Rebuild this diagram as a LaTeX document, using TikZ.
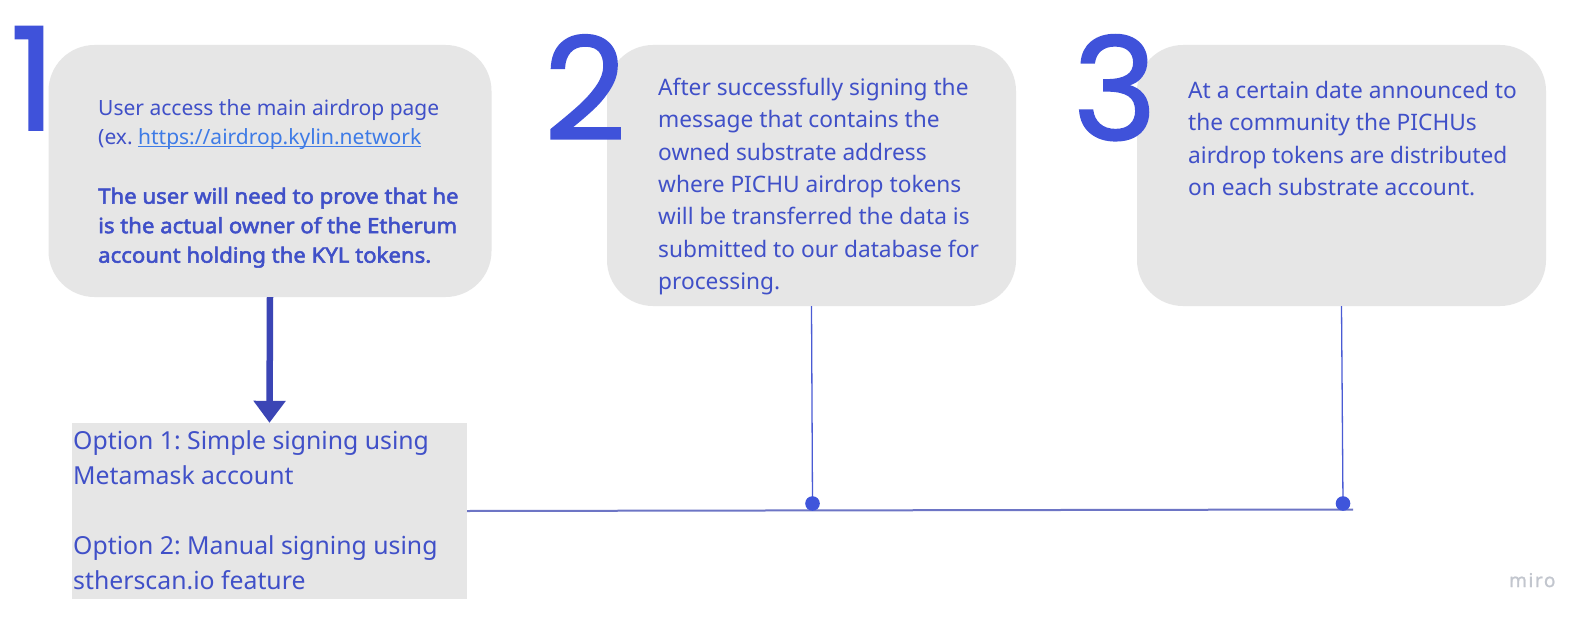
\documentclass[tikz,border=0pt]{standalone}
\usepackage{fontspec}
\setmainfont{Noto Sans}[AutoFakeBold=2.2]
\newfontfamily\digitfont{Poppins}[FakeBold=1.2]
\newfontfamily\boldnoto{Noto Sans}[FakeBold=2.6,FakeStretch=1.055]
\newfontfamily\mirofont{Noto Sans}[LetterSpace=8,FakeBold=1.2]
\usetikzlibrary{arrows.meta}
\frenchspacing
\definecolor{cardgray}{HTML}{E6E6E6}
\definecolor{txtblue}{HTML}{4050C8}
\definecolor{linkblue}{HTML}{3E7BE6}
\definecolor{digitblue}{HTML}{3F52DA}
\definecolor{arrowblue}{HTML}{3B45B5}
\definecolor{dotblue}{HTML}{3F55DB}
\definecolor{hlinecol}{HTML}{6D75C5}
\definecolor{vlinecol}{HTML}{4A5BD4}
\definecolor{mirogray}{HTML}{C2C6CE}
\newcommand\lnk[1]{\setbox0\hbox{#1}\rlap{\color{linkblue}\rule[-2.4pt]{\wd0}{1.3pt}}\box0}
\begin{document}
\begin{tikzpicture}[x=1pt,y=-1pt,
  card/.style={fill=cardgray, draw=none, rounded corners=46pt, inner sep=0pt},
  optbox/.style={fill=cardgray, draw=none, inner sep=0pt},
  digit/.style={digitblue, inner sep=0pt, anchor=base, font=\digitfont\fontsize{143}{143}\selectfont},
  cardtext/.style={txtblue, inner sep=0pt, anchor=north west, align=left},
  vconn/.style={vlinecol, line width=1.3pt},
  hconn/.style={hlinecol, line width=2pt},
  bigarrow/.style={arrowblue, line width=6.5pt, -{Triangle[width=31pt,length=22pt]}},
  dot/.style={fill=dotblue}
]
\useasboundingbox[fill=white] (0,0) rectangle (1596,626);

% cards
\node[card, minimum width=443pt, minimum height=252pt] (b1) at (270,171) {};
\node[card, minimum width=409pt, minimum height=261pt] (b2) at (811.5,175.5) {};
\node[card, minimum width=409pt, minimum height=261pt] (b3) at (1341.5,175.5) {};
\node[optbox, minimum width=395pt, minimum height=176pt] (opt) at (269.5,511) {};

% digits
\node[digit] (n1) at (33,130) {1};
\node[digit] (n2) at (585,140) {2};
\node[digit] (n3) at (1115,140) {3};

% texts
\node[cardtext, font=\fontsize{21}{29.5}\selectfont] (t1) at (98,99)
  {User access the main airdrop page\\
   (ex. {\color{linkblue}\lnk{https://airdrop.kylin.network}}\\
   \mbox{}\\
   \boldnoto The user will need to prove that he\\
   \boldnoto is the actual owner of the Etherum\\
   \boldnoto account holding the KYL tokens.};
\node[cardtext, font=\fontsize{22.7}{32.3}\selectfont] (t2) at (658,78)
  {After successfully signing the\\
   message that contains the\\
   owned substrate address\\
   where PICHU airdrop tokens\\
   will be transferred the data is\\
   submitted to our database for\\
   processing.};
\node[cardtext, font=\fontsize{22.7}{32.3}\selectfont] (t3) at (1188,81)
  {At a certain date announced to\\
   the community the PICHUs\\
   airdrop tokens are distributed\\
   on each substrate account.};
\node[cardtext, font=\fontsize{24.8}{35}\selectfont] (t4) at (73,430)
  {Option 1: Simple signing using\\
   Metamask account\\
   \mbox{}\\
   Option 2: Manual signing using\\
   stherscan.io feature};

% watermark
\node[mirogray, inner sep=0pt, anchor=base west, font=\mirofont\fontsize{19}{19}\selectfont] (miro) at (1509,587) {miro};

% connectors
\coordinate (d2) at (812.5,503.5);
\coordinate (d3) at (1343,503.5);
\coordinate (hend) at (1353,509.5);
\draw[bigarrow] (b1.south) -- (opt.north);
\draw[vconn] (b2.south) -- (d2);
\draw[vconn] (b3.south) -- (d3);
\draw[hconn] (opt.east) -- (hend);
\fill[dot] (d2) circle[radius=7.3pt];
\fill[dot] (d3) circle[radius=7.3pt];
\end{tikzpicture}
\end{document}
